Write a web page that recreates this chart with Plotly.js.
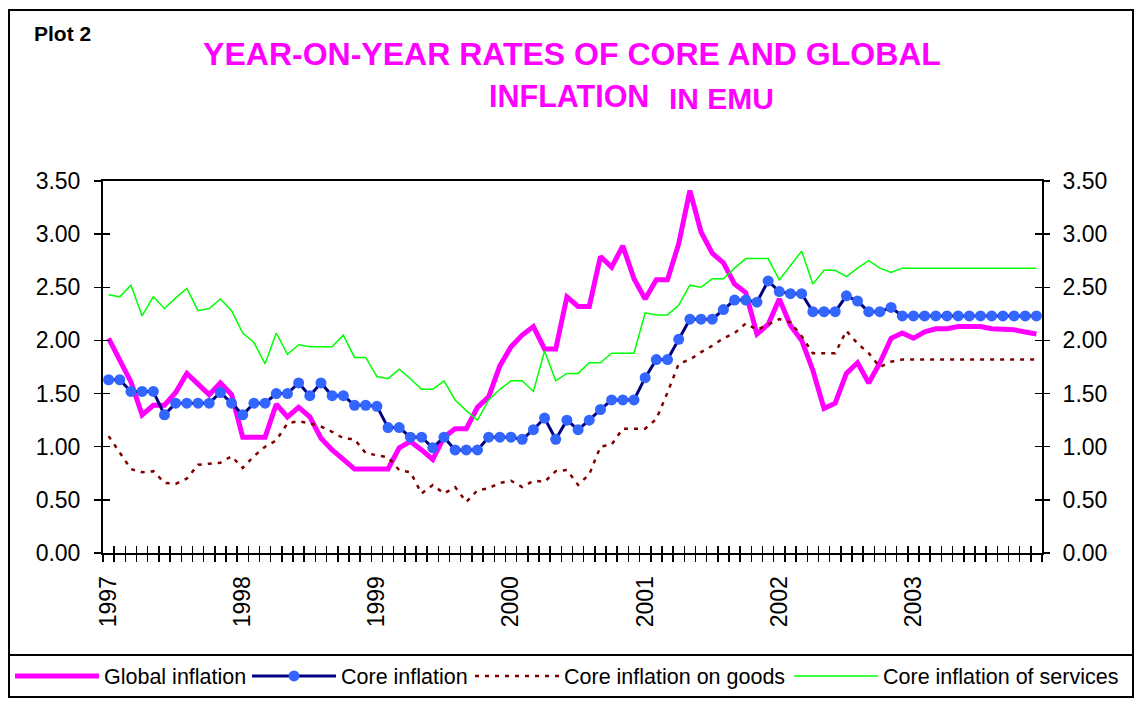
<!DOCTYPE html>
<html>
<head>
<meta charset="utf-8">
<script src="https://cdn.plot.ly/plotly-3.0.1.min.js"></script>
<style>html,body{margin:0;padding:0;background:#fff;}#chart{width:1137px;height:702px;}</style>
</head>
<body>
<div id="chart"></div>
<script>
// ---- data (monthly, Jan 1997 - Dec 2003) ----
const months = Array.from({length: 84}, (_, i) => i); // month index 0 = Jan 1997
const yearLabels = ["1997", "1998", "1999", "2000", "2001", "2002", "2003"];
const yearTickPos = [0, 12, 24, 36, 48, 60, 72];

const globalInflation = [
  2.02, 1.81, 1.61, 1.30, 1.39, 1.39, 1.51, 1.69, 1.59, 1.49, 1.60, 1.49,
  1.09, 1.09, 1.09, 1.40, 1.28, 1.37, 1.28, 1.08, 0.97, 0.88, 0.79, 0.79,
  0.79, 0.79, 0.99, 1.05, 0.97, 0.88, 1.09, 1.17, 1.17, 1.37, 1.47, 1.76,
  1.94, 2.05, 2.13, 1.92, 1.92, 2.41, 2.32, 2.32, 2.79, 2.69, 2.89, 2.58,
  2.39, 2.57, 2.57, 2.91, 3.41, 3.02, 2.82, 2.73, 2.53, 2.45, 2.06, 2.15,
  2.39, 2.14, 2.00, 1.72, 1.36, 1.41, 1.69, 1.79, 1.60, 1.79, 2.02, 2.07,
  2.02, 2.08, 2.11, 2.11, 2.13, 2.13, 2.13, 2.11, 2.11, 2.10, 2.08, 2.06
];
const coreInflation = [
  1.63, 1.63, 1.52, 1.52, 1.52, 1.30, 1.41, 1.41, 1.41, 1.41, 1.51, 1.41,
  1.30, 1.41, 1.41, 1.50, 1.50, 1.60, 1.48, 1.60, 1.48, 1.48, 1.39, 1.39,
  1.38, 1.18, 1.18, 1.09, 1.09, 0.99, 1.09, 0.97, 0.97, 0.97, 1.09, 1.09,
  1.09, 1.07, 1.16, 1.27, 1.07, 1.25, 1.16, 1.25, 1.35, 1.44, 1.44, 1.44,
  1.65, 1.82, 1.82, 2.01, 2.20, 2.20, 2.20, 2.29, 2.38, 2.38, 2.36, 2.56,
  2.46, 2.44, 2.44, 2.27, 2.27, 2.27, 2.42, 2.37, 2.27, 2.27, 2.31, 2.23,
  2.23, 2.23, 2.23, 2.23, 2.23, 2.23, 2.23, 2.23, 2.23, 2.23, 2.23, 2.23
];
const coreGoods = [
  1.10, 0.95, 0.79, 0.76, 0.77, 0.66, 0.65, 0.70, 0.83, 0.84, 0.85, 0.91,
  0.80, 0.91, 1.00, 1.06, 1.22, 1.24, 1.22, 1.19, 1.14, 1.08, 1.07, 0.94,
  0.92, 0.90, 0.78, 0.76, 0.56, 0.64, 0.56, 0.62, 0.48, 0.59, 0.61, 0.66,
  0.68, 0.62, 0.68, 0.67, 0.77, 0.78, 0.64, 0.74, 1.00, 1.02, 1.17, 1.17,
  1.17, 1.26, 1.51, 1.78, 1.82, 1.89, 1.95, 2.02, 2.07, 2.16, 2.10, 2.15,
  2.20, 2.17, 2.04, 1.88, 1.88, 1.88, 2.09, 1.97, 1.88, 1.75, 1.80, 1.82,
  1.82, 1.82, 1.82, 1.82, 1.82, 1.82, 1.82, 1.82, 1.82, 1.82, 1.82, 1.82
];
const coreServices = [
  2.43, 2.41, 2.52, 2.23, 2.41, 2.30, 2.40, 2.49, 2.28, 2.30, 2.39, 2.28,
  2.07, 1.98, 1.78, 2.07, 1.87, 1.96, 1.94, 1.94, 1.94, 2.05, 1.84, 1.84,
  1.66, 1.64, 1.73, 1.64, 1.54, 1.54, 1.62, 1.44, 1.34, 1.25, 1.44, 1.54,
  1.62, 1.62, 1.52, 1.90, 1.62, 1.69, 1.69, 1.79, 1.79, 1.88, 1.88, 1.88,
  2.26, 2.24, 2.24, 2.33, 2.52, 2.50, 2.58, 2.58, 2.68, 2.77, 2.77, 2.77,
  2.57, 2.71, 2.84, 2.53, 2.66, 2.66, 2.60, 2.68, 2.75, 2.68, 2.64, 2.68,
  2.68, 2.68, 2.68, 2.68, 2.68, 2.68, 2.68, 2.68, 2.68, 2.68, 2.68, 2.68
];
const seriesNames = ["Global inflation", "Core inflation", "Core inflation on goods", "Core inflation of services"];

// ---- geometry helpers (pixel -> paper) ----
const W = 1137, H = 702;
const M = {l: 103, r: 95, t: 181, b: 149, autoexpand: false};
const PW = W - M.l - M.r, PH = H - M.t - M.b;
const px = x => (x - M.l) / PW;
const py = y => (H - M.b - y) / PH;

const FONT = "Liberation Sans, Arial, sans-serif";

const traces = [
  {x: months, y: globalInflation, name: seriesNames[0], type: "scatter", mode: "lines",
   line: {color: "#FF00FF", width: 5}, legend: "legend"},
  {x: months, y: coreInflation, name: seriesNames[1], type: "scatter", mode: "lines+markers",
   line: {color: "#000080", width: 3}, marker: {color: "#3366FF", size: 11}, legend: "legend2"},
  {x: months, y: coreGoods, name: seriesNames[2], type: "scatter", mode: "lines",
   line: {color: "#800000", width: 2.5, dash: "4px,6px"}, legend: "legend3"},
  {x: months, y: coreServices, name: seriesNames[3], type: "scatter", mode: "lines",
   line: {color: "#00FF00", width: 1.5}, legend: "legend4"},
  // empty helper traces so the overlay axes (crossing ticks, right labels) get drawn
  {x: [], y: [], xaxis: "x2", yaxis: "y", showlegend: false, hoverinfo: "skip", type: "scatter", mode: "lines"},
  {x: [], y: [], xaxis: "x", yaxis: "y2", showlegend: false, hoverinfo: "skip", type: "scatter", mode: "lines"},
  {x: [], y: [], xaxis: "x", yaxis: "y3", showlegend: false, hoverinfo: "skip", type: "scatter", mode: "lines"}
];

const axFont = {family: FONT, size: 23, color: "#000"};

function legendAt(lineStartPx) {
  return {
    orientation: "h", xref: "container", yref: "container",
    x: (lineStartPx - 5) / W, xanchor: "left", y: 1 - 676 / H, yanchor: "middle",
    font: {family: FONT, size: 21.5, color: "#000"}, bgcolor: "rgba(0,0,0,0)",
    itemwidth: 84
  };
}

const layout = {
  width: W, height: H,
  margin: M,
  paper_bgcolor: "#fff", plot_bgcolor: "#fff",
  showlegend: true,
  title: {
    text: "YEAR-ON-YEAR RATES OF CORE AND GLOBAL",
    font: {family: FONT, size: 32, color: "#FF00FF", weight: 700},
    x: 572 / W, xanchor: "center", xref: "container",
    y: 1 - 54 / H, yanchor: "middle", yref: "container"
  },
  xaxis: {
    range: [-0.5, 83.5], fixedrange: true, automargin: false,
    tickmode: "array", tickvals: yearTickPos, ticktext: yearLabels,
    tickangle: -90, tickfont: axFont, ticks: "", ticklabelstandoff: 12,
    minor: {tick0: -0.5, dtick: 1, ticks: "outside", ticklen: 7, tickwidth: 1.5, tickcolor: "#000", showgrid: false},
    showline: true, linecolor: "#000", linewidth: 2, mirror: true,
    showgrid: false, zeroline: false
  },
  xaxis2: {
    range: [-0.5, 83.5], overlaying: "x", anchor: "y", side: "bottom", automargin: false,
    tickmode: "linear", tick0: -0.5, dtick: 1, ticks: "inside", ticklen: 7, tickwidth: 1.5, tickcolor: "#000",
    showticklabels: false, showline: false, showgrid: false, zeroline: false
  },
  yaxis: {
    range: [0, 3.5], dtick: 0.5, tickformat: ".2f", tickfont: axFont, automargin: false,
    ticks: "outside", ticklen: 7, tickwidth: 1.5, tickcolor: "#000", ticklabelstandoff: 9,
    showline: true, linecolor: "#000", linewidth: 2, mirror: true,
    showgrid: false, zeroline: false
  },
  yaxis2: {
    range: [0, 3.5], dtick: 0.5, tickformat: ".2f", tickfont: axFont, automargin: false,
    overlaying: "y", side: "right", anchor: "x",
    ticks: "outside", ticklen: 7, tickwidth: 1.5, tickcolor: "#000", ticklabelstandoff: 8,
    showline: false, showgrid: false, zeroline: false
  },
  yaxis3: {
    range: [0, 3.5], dtick: 0.5, overlaying: "y", side: "left", anchor: "x", automargin: false,
    ticks: "inside", ticklen: 7, tickwidth: 1.5, tickcolor: "#000", mirror: "allticks",
    showticklabels: false, showline: false, showgrid: false, zeroline: false
  },
  legend: legendAt(15),
  legend2: legendAt(252),
  legend3: legendAt(475),
  legend4: legendAt(794),
  annotations: [
    {text: "INFLATION", xref: "paper", yref: "paper", x: px(569), y: py(96), xanchor: "center", yanchor: "middle",
     showarrow: false, font: {family: FONT, size: 30.5, color: "#FF00FF", weight: 700}},
    {text: "IN EMU", xref: "paper", yref: "paper", x: px(721.5), y: py(98.5), xanchor: "center", yanchor: "middle",
     showarrow: false, font: {family: FONT, size: 30, color: "#FF00FF", weight: 700}},
    {text: "Plot 2", xref: "paper", yref: "paper", x: px(32), y: py(34), xanchor: "left", yanchor: "middle",
     showarrow: false, font: {family: FONT, size: 21, color: "#000", weight: 700}}
  ],
  shapes: [
    {type: "rect", xref: "paper", yref: "paper", x0: px(9), x1: px(1133), y0: py(10), y1: py(697),
     line: {color: "#000", width: 2}, fillcolor: "rgba(0,0,0,0)", layer: "below"},
    {type: "line", xref: "paper", yref: "paper", x0: px(9), x1: px(1133), y0: py(655), y1: py(655),
     line: {color: "#000", width: 2}}
  ]
};

Plotly.newPlot("chart", traces, layout, {displayModeBar: false, staticPlot: true});
</script>
</body>
</html>
